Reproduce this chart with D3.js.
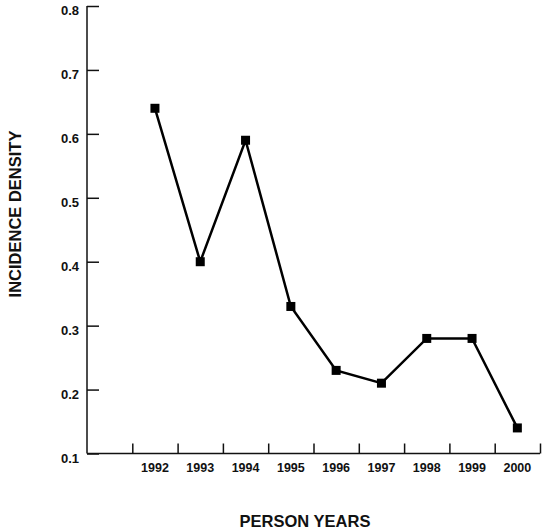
<!DOCTYPE html>
<html>
<head>
<meta charset="utf-8">
<script src="https://cdn.jsdelivr.net/npm/d3@7"></script>
<style>
  body { margin: 0; background: #fff; }
  text { font-family: "Liberation Sans", Arial, sans-serif; font-weight: bold; fill: #111; }
</style>
</head>
<body>
<div id="chart"></div>
<script>
// incidence density by year
const years = [1992, 1993, 1994, 1995, 1996, 1997, 1998, 1999, 2000]
const density = [0.64, 0.40, 0.59, 0.33, 0.23, 0.21, 0.28, 0.28, 0.14]
const yTicks = [0.1, 0.2, 0.3, 0.4, 0.5, 0.6, 0.7, 0.8]
// x ticks sit between the years, one empty slot before 1992
const xTicks = [1991.5, 1992.5, 1993.5, 1994.5, 1995.5, 1996.5, 1997.5, 1998.5, 1999.5, 2000.5]

const W = 543, H = 531
const margin = { top: 6, right: 3, bottom: 77.5, left: 87 }
const width = W - margin.left - margin.right
const height = H - margin.top - margin.bottom

const svg = d3.select('#chart').append('svg')
  .attr('width', W)
  .attr('height', H)

const g = svg.append('g')
  .attr('transform', 'translate(' + margin.left + ',' + margin.top + ')')

const x = d3.scaleLinear().domain([1990.5, 2000.5]).range([0, width])
const y = d3.scaleLinear().domain([0.1, 0.8]).range([height, 0])

// y axis, ticks pointing inward
const yAxis = g.append('g')
  .call(d3.axisRight(y).tickValues(yTicks).tickSize(12).tickFormat(d3.format('.1f')))
yAxis.select('.domain').attr('d', 'M0,0V' + height).attr('stroke', '#111').attr('stroke-width', 1.5)
yAxis.selectAll('.tick line').attr('stroke', '#111').attr('stroke-width', 1.5)
// labels hang just below their tick
yAxis.selectAll('.tick text')
  .attr('x', -8)
  .attr('y', 4.5)
  .attr('text-anchor', 'end')
  .style('font-size', '13px')

// x axis, ticks pointing up
const xAxis = g.append('g')
  .attr('transform', 'translate(0,' + height + ')')
  .call(d3.axisTop(x).tickValues(xTicks).tickSize(10).tickFormat(''))
xAxis.select('.domain').attr('d', 'M0,0H' + width).attr('stroke', '#111').attr('stroke-width', 1.5)
xAxis.selectAll('.tick line').attr('stroke', '#111').attr('stroke-width', 1.5)

// year labels at slot centres
g.append('g').selectAll('text')
  .data(years)
  .join('text')
  .attr('x', d => x(d))
  .attr('y', height + 18.5)
  .attr('text-anchor', 'middle')
  .style('font-size', '12.5px')
  .text(d => d)

const pts = years.map((d, i) => [d, density[i]])

const valueline = d3.line()
  .x(d => x(d[0]))
  .y(d => y(d[1]))

g.append('path')
  .datum(pts)
  .attr('fill', 'none')
  .attr('stroke', '#000')
  .attr('stroke-width', 2.5)
  .attr('d', valueline)

g.selectAll('.pt')
  .data(pts)
  .join('rect')
  .attr('class', 'pt')
  .attr('x', d => x(d[0]) - 4.5)
  .attr('y', d => y(d[1]) - 4.5)
  .attr('width', 9)
  .attr('height', 9)
  .attr('fill', '#000')

// axis titles
svg.append('text')
  .attr('transform', 'translate(21,214) rotate(-90)')
  .attr('text-anchor', 'middle')
  .style('font-size', '16.5px')
  .text('INCIDENCE DENSITY')

svg.append('text')
  .attr('x', 305)
  .attr('y', 527)
  .attr('text-anchor', 'middle')
  .style('font-size', '16.5px')
  .text('PERSON YEARS')
</script>
</body>
</html>
